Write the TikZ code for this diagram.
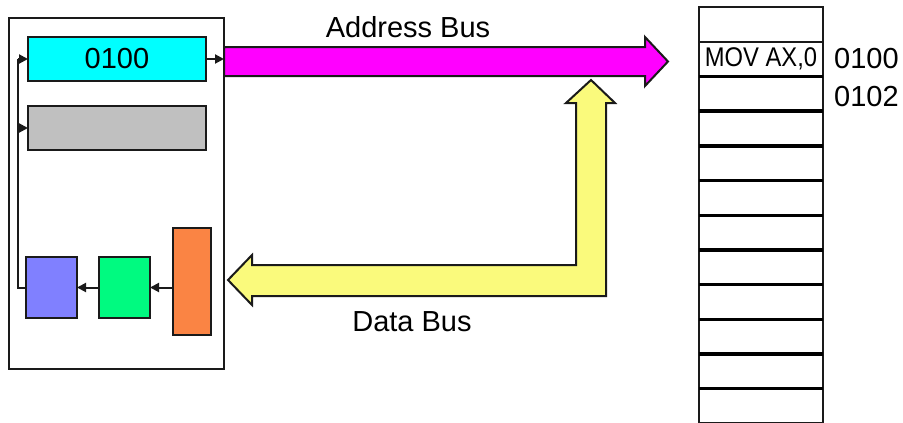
\documentclass[tikz,border=0pt]{standalone}
\usepackage{fontspec}
\setmainfont{Liberation Sans}
\usetikzlibrary{arrows.meta}
\definecolor{pccyan}{HTML}{00FFFF}
\definecolor{irgray}{HTML}{C0C0C0}
\definecolor{blueblk}{HTML}{8080FF}
\definecolor{greenblk}{HTML}{00FA80}
\definecolor{orangeblk}{HTML}{FA8444}
\definecolor{addrbus}{HTML}{FF00FF}
\definecolor{databus}{HTML}{FAFA7C}
\definecolor{ink}{HTML}{1A1A1A}
\tikzset{
  blk/.style={draw=ink, line width=2pt, inner sep=0pt, outer sep=0pt},
  wire/.style={draw=ink, line width=2pt},
  arr/.style={wire, -{Triangle[length=9pt,width=9pt]}},
  bus/.style={draw=ink, line width=2pt, line join=miter},
  lbl/.style={inner sep=0pt, font=\fontsize{29}{32}\selectfont},
  memrow/.style={draw=ink, line width=2pt, minimum width=124pt, minimum height=34.7pt, inner sep=0pt, outer sep=0pt, anchor=north west},
  memsep/.style={draw=black, line width=3.4pt}
}
\begin{document}
\begin{tikzpicture}[x=1pt,y=-1pt]
\useasboundingbox (0,0) rectangle (903,423);
\clip (0,0) rectangle (903,423);
% CPU box
\node[blk, minimum width=215pt, minimum height=351pt] (cpu) at (116.5,193.5) {};
\node[blk, fill=pccyan, minimum width=178pt, minimum height=44pt] (pc) at (117,59) {\fontsize{29}{30}\selectfont 0100};
\node[blk, fill=irgray, minimum width=178pt, minimum height=44pt] (ir) at (117,128) {};
\node[blk, fill=blueblk, minimum width=51pt, minimum height=61pt] (blue) at (51.5,287.5) {};
\node[blk, fill=greenblk, minimum width=51pt, minimum height=61pt] (green) at (124.5,287.5) {};
\node[blk, fill=orangeblk, minimum width=38pt, minimum height=107pt] (orange) at (192,281.5) {};
% internal wiring
\coordinate (fb) at (18,287.5);
\coordinate (fbt) at (18,59);
\draw[wire] (blue.west) -- (fb) -- (fbt);
\draw[arr] (fbt) -- (pc.west);
\draw[arr] (fbt |- ir.west) -- (ir.west);
\draw[arr] (orange.west |- green.east) -- (green.east);
\draw[arr] (green.west) -- (blue.east);
\draw[arr] (pc.east) -- (pc.east -| cpu.east);
% Address bus
\draw[bus, fill=addrbus] (224,47) -- (645,47) -- (645,37) -- (668,61.5) -- (645,86) -- (645,76) -- (224,76) -- cycle;
\node[lbl] (addr) at (408,27) {Address Bus};
% Data bus
\draw[bus, fill=databus] (228,280) -- (252,255) -- (252,265) -- (576,265) -- (576,103) -- (566,103) -- (591,80) -- (615,103) -- (606,103) -- (606,296) -- (252,296) -- (252,305) -- cycle;
\node[lbl] (data) at (412,322) {Data Bus};
% Memory
\foreach \i in {0,...,11} {
  \node[memrow] (m\i) at (699,7+34.7*\i) {};
}
\foreach \i in {2,...,11} {
  \draw[memsep] (m\i.north west) -- (m\i.north east);
}
\node[inner sep=0pt] (mov) at (m1.center) {\scalebox{0.88}[1]{\fontsize{27}{30}\selectfont MOV AX,0}};
\node[lbl, anchor=west] (a100) at (834,59) {0100};
\node[lbl, anchor=west] (a102) at (834,97) {0102};
\end{tikzpicture}
\end{document}
